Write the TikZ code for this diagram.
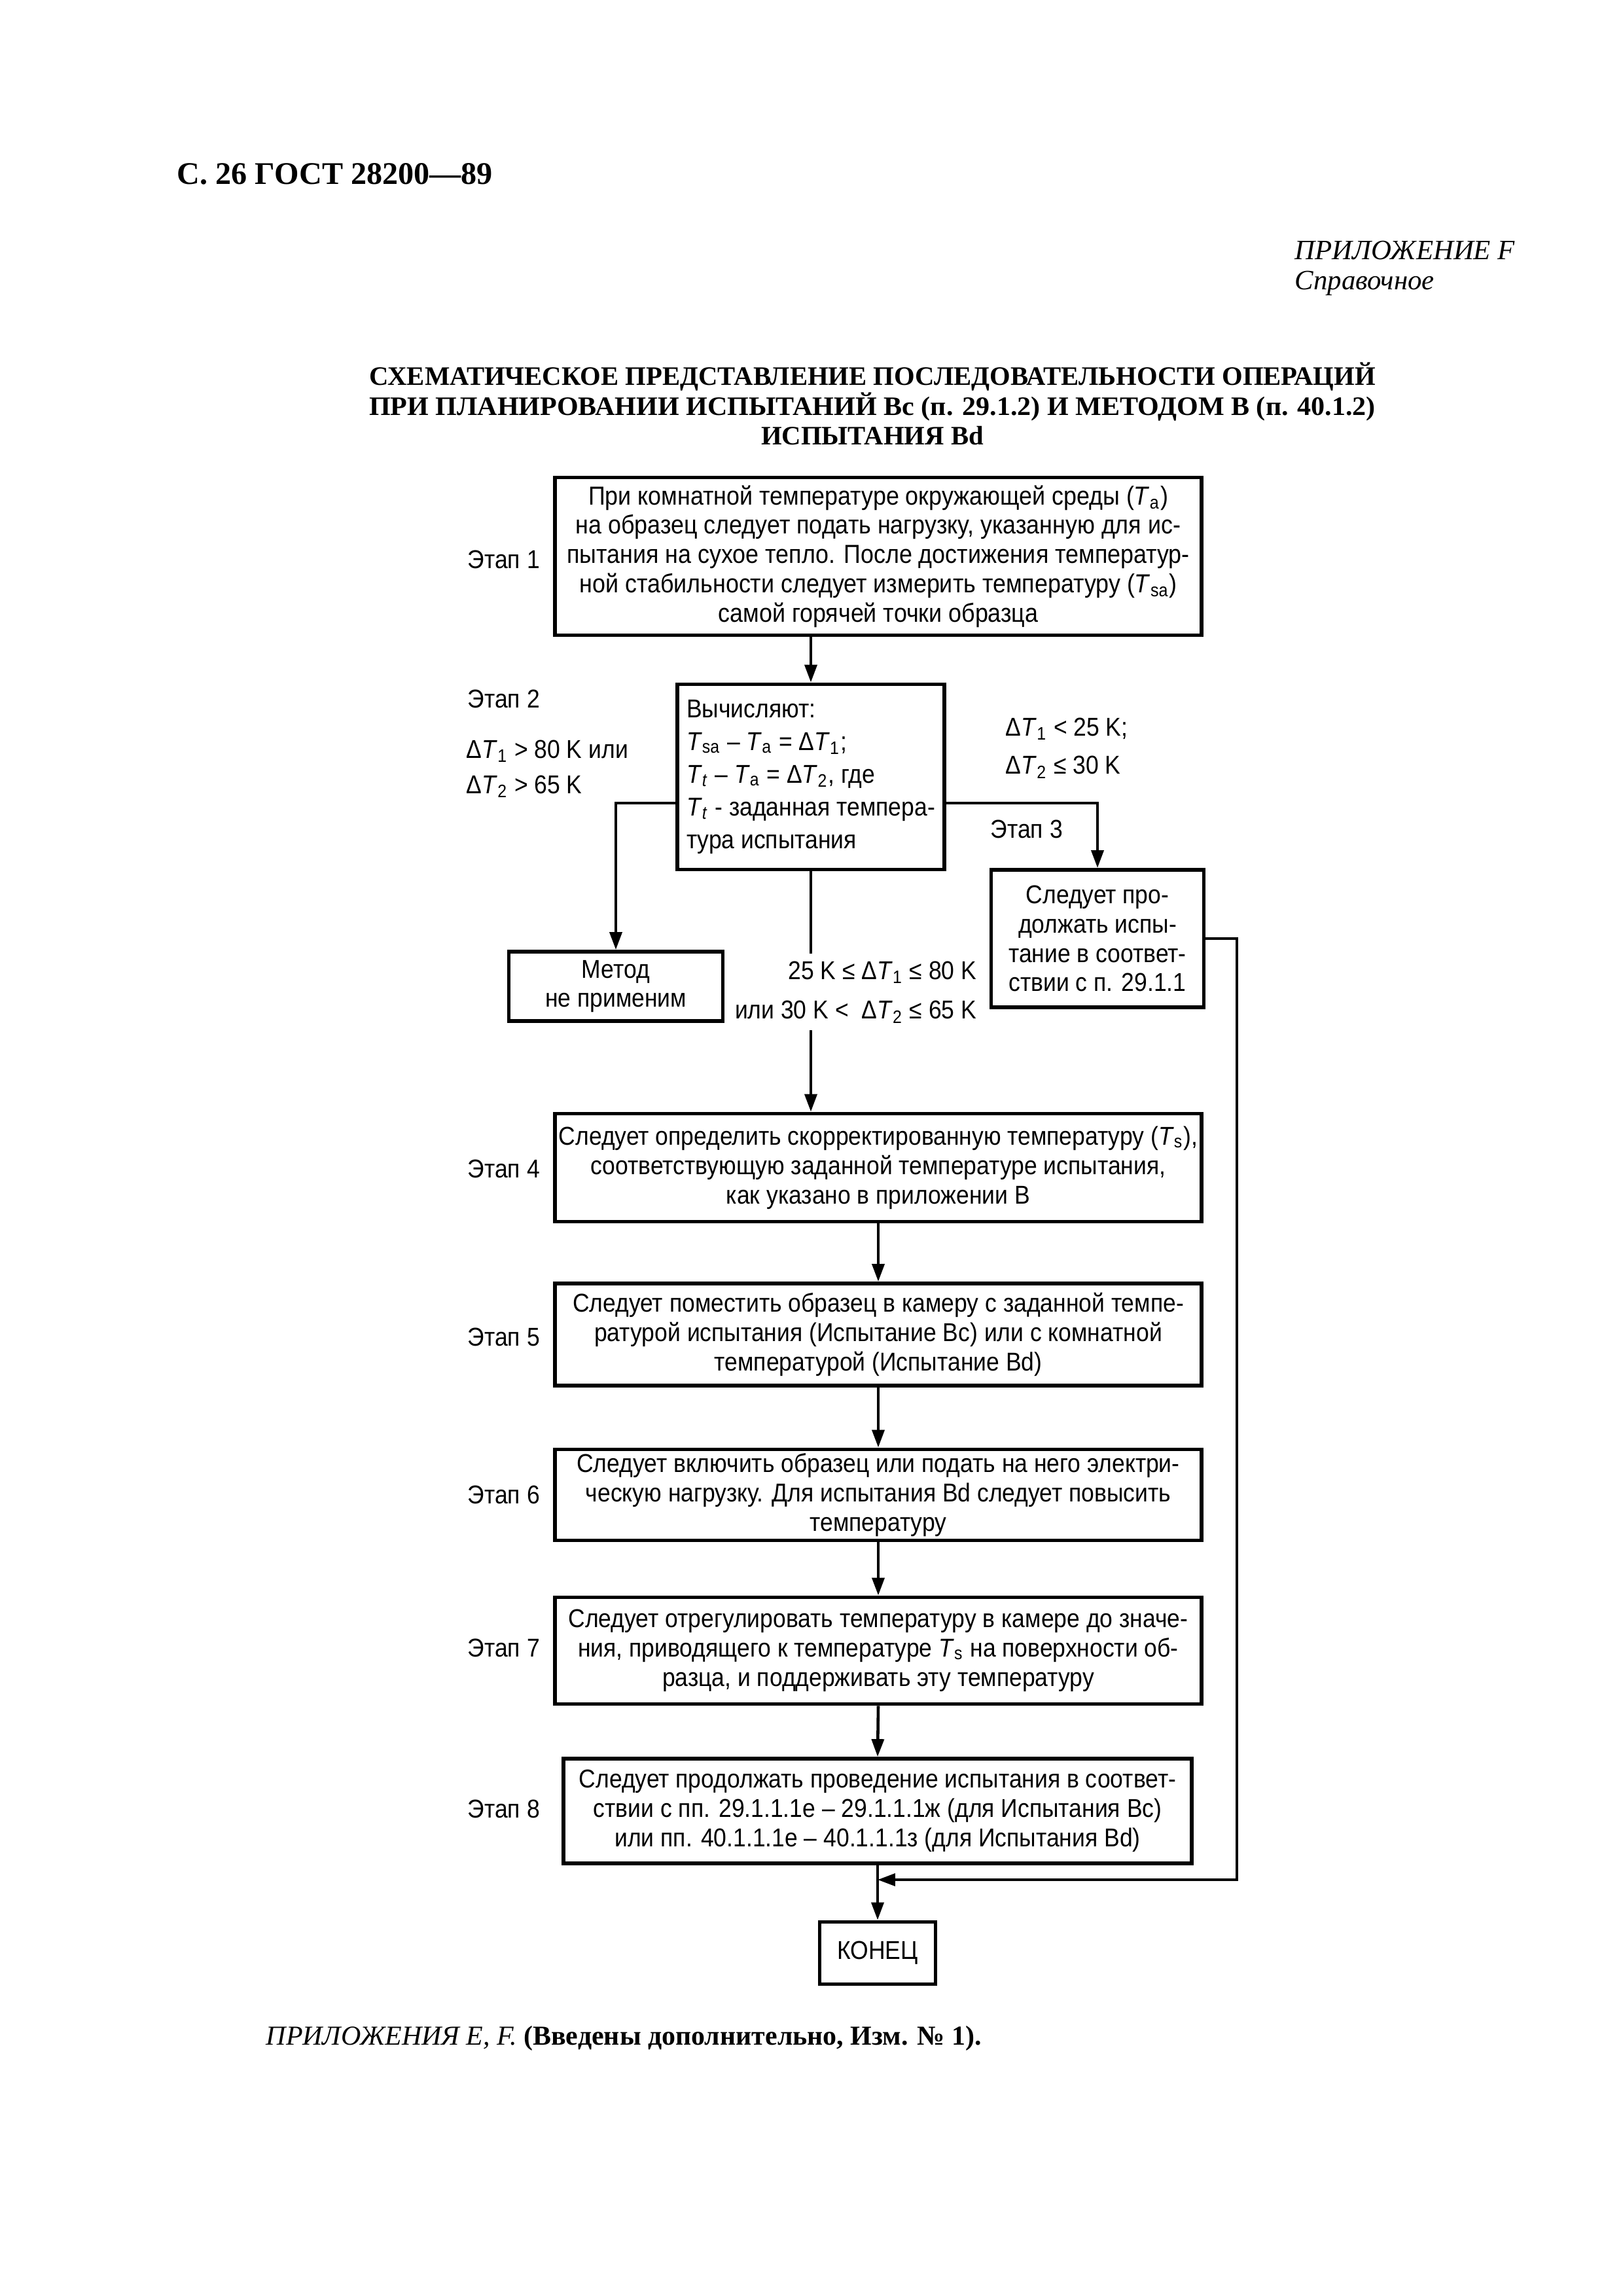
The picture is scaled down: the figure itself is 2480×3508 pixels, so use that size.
\documentclass[tikz,border=0pt]{standalone}
\usepackage{graphicx}
\usepackage{fontspec}
\setmainfont{Liberation Serif}
\newfontfamily\arialf[FakeStretch=0.9]{Liberation Sans}
\usetikzlibrary{arrows.meta}
\def\px{0.084667mm}
\newlength\tlw
\newcommand\Tv[1]{\textit{T}\textsubscript{#1}}
\newcommand\Ttt{\textit{T}\textsubscript{\textit{t}}}
\newcommand\dT[1]{Δ\textit{T}\textsubscript{#1}}
\begin{document}
\settowidth{\tlw}{\fontsize{9.8}{11}\selectfont\bfseries СХЕМАТИЧЕСКОЕ ПРЕДСТАВЛЕНИЕ ПОСЛЕДОВАТЕЛЬНОСТИ ОПЕРАЦИЙ}%
\begin{tikzpicture}[x=\px,y=-\px,
  box/.style={draw, line width=1.4pt, inner sep=0pt, align=center, font=\arialf\fontsize{9.5}{10.8}\selectfont},
  lab/.style={inner sep=0pt, align=left, font=\arialf\fontsize{9.5}{10.8}\selectfont},
  conn/.style={line width=1.1pt},
  arr/.style={conn, -{Triangle[length=6.5pt,width=4.5pt]}}]
\useasboundingbox[fill=white] (0,0) rectangle (2480,3508);

% header
\node[inner sep=0pt, anchor=west, font=\fontsize{11.6}{14}\selectfont\bfseries] (hdr) at (270,266) {С. 26 ГОСТ 28200—89};
\node[inner sep=0pt, anchor=west, font=\fontsize{10.3}{12}\selectfont\itshape] (app) at (1978,383) {ПРИЛОЖЕНИЕ F};
\node[inner sep=0pt, anchor=west, font=\fontsize{10.3}{12}\selectfont\itshape] (ref) at (1978,433) {Справочное};
\node[inner sep=0pt, align=center, font=\fontsize{9.8}{11}\selectfont\bfseries] (title) at (1333,617)
  {СХЕМАТИЧЕСКОЕ ПРЕДСТАВЛЕНИЕ ПОСЛЕДОВАТЕЛЬНОСТИ ОПЕРАЦИЙ\\
   \resizebox{\tlw}{\height}{ПРИ ПЛАНИРОВАНИИ ИСПЫТАНИЙ Вс (п. 29.1.2) И МЕТОДОМ В (п. 40.1.2)}\\
   ИСПЫТАНИЯ Bd};

% boxes
\node[box, minimum width=988*\px, minimum height=241*\px, font=\arialf\fontsize{9.6}{10.8}\selectfont] (b1) at (1342,850)
  {При комнатной температуре окружающей среды (\Tv{a})\\
   на образец следует подать нагрузку, указанную для ис-\\
   пытания на сухое тепло. После достижения температур-\\
   ной стабильности следует измерить температуру (\Tv{sa})\\
   самой горячей точки образца};
\node[box, minimum width=408*\px, minimum height=283*\px, align=left,
  font=\arialf\fontsize{9.5}{12}\selectfont] (b2) at (1239,1187)
  {Вычисляют:\\
   \Tv{sa} – \Tv{a} = \dT{1};\\
   \Ttt{} – \Tv{a} = \dT{2}, где\\
   \Ttt{} - заданная темпера-\\
   тура испытания};
\node[box, minimum width=327*\px, minimum height=106*\px] (bm) at (941,1507)
  {Метод\\не применим};
\node[box, minimum width=325*\px, minimum height=210*\px] (b3) at (1677,1434)
  {Следует про-\\должать испы-\\тание в соответ-\\ствии с п. 29.1.1};
\node[box, minimum width=988*\px, minimum height=165*\px] (b4) at (1342,1784)
  {Следует определить скорректированную температуру (\Tv{s}),\\
   соответствующую заданной температуре испытания,\\
   как указано в приложении В};
\node[box, minimum width=988*\px, minimum height=156*\px] (b5) at (1342,2039)
  {Следует поместить образец в камеру с заданной темпе-\\
   ратурой испытания (Испытание Вс) или с комнатной\\
   температурой (Испытание Bd)};
\node[box, minimum width=988*\px, minimum height=139*\px] (b6) at (1342,2284)
  {Следует включить образец или подать на него электри-\\
   ческую нагрузку. Для испытания Bd следует повысить\\
   температуру};
\node[box, minimum width=988*\px, minimum height=163*\px] (b7) at (1342,2522)
  {Следует отрегулировать температуру в камере до значе-\\
   ния, приводящего к температуре \Tv{s} на поверхности об-\\
   разца, и поддерживать эту температуру};
\node[box, minimum width=960*\px, minimum height=160*\px] (b8) at (1341,2767)
  {Следует продолжать проведение испытания в соответ-\\
   ствии с пп. 29.1.1.1е – 29.1.1.1ж (для Испытания Вс)\\
   или пп. 40.1.1.1е – 40.1.1.1з (для Испытания Bd)};
\node[box, minimum width=177*\px, minimum height=95*\px] (end) at (1341,2984) {КОНЕЦ};

% labels
\node[lab, anchor=west] (e1) at (714,855) {Этап 1};
\node[lab, anchor=west] (e2) at (714,1068) {Этап 2};
\node[lab, anchor=west, font=\arialf\fontsize{9.5}{13}\selectfont] (cl) at (712,1175)
  {\dT{1} > 80 K или\\\dT{2} > 65 K};
\node[lab, anchor=west, font=\arialf\fontsize{9.5}{14}\selectfont] (cr) at (1536,1143)
  {\dT{1} < 25 K;\\\dT{2} ≤ 30 K};
\node[lab, anchor=west] (e3) at (1513,1267) {Этап 3};
\node[lab, anchor=east, align=right, font=\arialf\fontsize{9.5}{14.6}\selectfont] (cc) at (1493,1516)
  {25 K ≤ \dT{1} ≤ 80 K\\или 30 K <\ \ \dT{2} ≤ 65 K};
\node[lab, anchor=west] (e4) at (714,1786) {Этап 4};
\node[lab, anchor=west] (e5) at (714,2043) {Этап 5};
\node[lab, anchor=west] (e6) at (714,2284) {Этап 6};
\node[lab, anchor=west] (e7) at (714,2518) {Этап 7};
\node[lab, anchor=west] (e8) at (714,2764) {Этап 8};

% footer
\node[inner sep=0pt, anchor=west, font=\fontsize{10.1}{12}\selectfont] (foot) at (406,3114)
  {\textit{ПРИЛОЖЕНИЯ E, F.} \textbf{(Введены дополнительно, Изм. № 1).}};

% helper coordinates
\coordinate (ysplit) at (0,1227);
\coordinate (g1) at (1239,1457);
\coordinate (g2) at (1239,1574);
\coordinate (xr) at (1890,0);
\coordinate (yfb) at (0,2872);

% connectors
\draw[arr] (b1.south -| b2.north) -- (b2.north);
\draw[arr] (b2.west |- ysplit) -| (bm.north);
\draw[arr] (b2.east |- ysplit) -| (b3.north);
\draw[conn] (b2.south) -- (g1);
\draw[arr] (g2) -- (g2 |- b4.north);
\draw[arr] (b4.south) -- (b5.north);
\draw[arr] (b5.south) -- (b6.north);
\draw[arr] (b6.south) -- (b7.north);
\draw[arr] (b7.south) -- (b8.north);
\draw[arr] (b8.south) -- (end.north);
\draw[arr] (b3.east) -- (b3.east -| xr) -- (xr |- yfb) -- (b8.south |- yfb);
\end{tikzpicture}
\end{document}
